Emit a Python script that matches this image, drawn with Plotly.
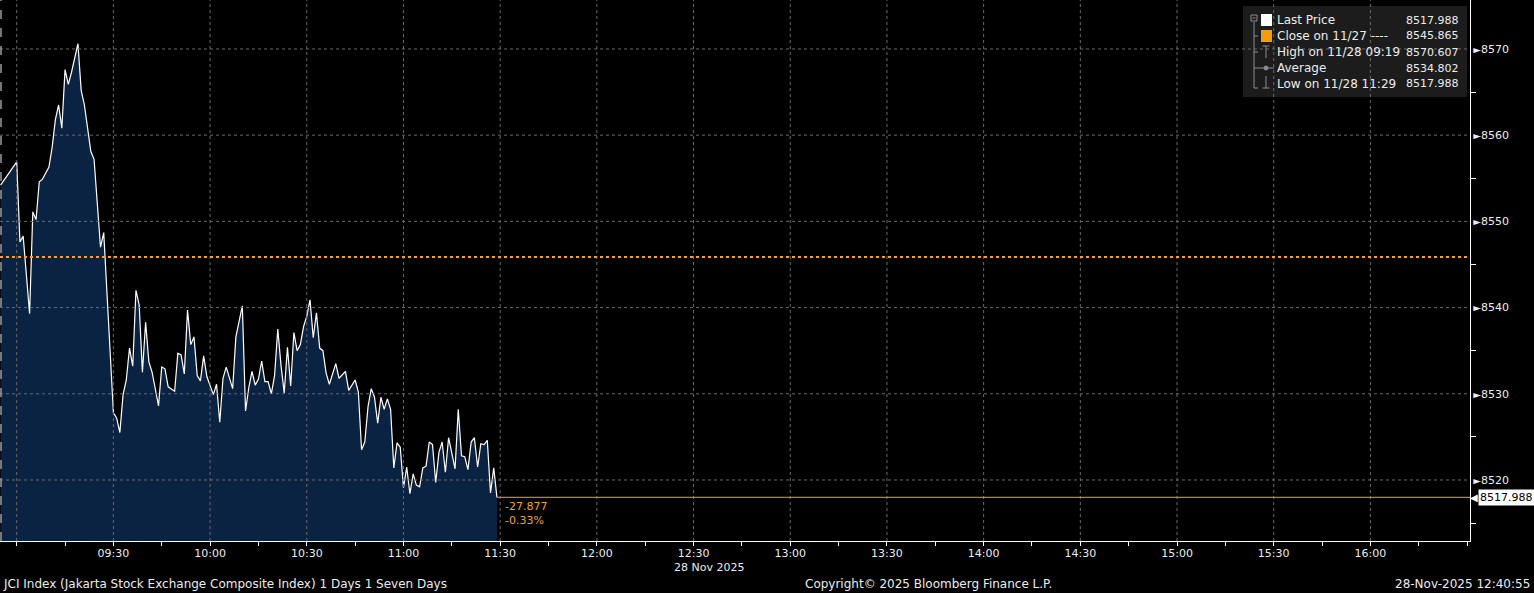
import plotly.graph_objects as go

# ---------------- data ----------------
DATE = "2025-11-28"
times = [
    "08:55", "09:00", "09:01", "09:02", "09:04", "09:05", "09:06", "09:07", "09:08", "09:10",
    "09:11", "09:12", "09:13", "09:14", "09:15", "09:16", "09:17", "09:19", "09:20", "09:21",
    "09:23", "09:24", "09:26", "09:27", "09:30", "09:31", "09:32", "09:33", "09:34", "09:35",
    "09:36", "09:37", "09:38", "09:39", "09:40", "09:41", "09:42", "09:44", "09:45", "09:46",
    "09:47", "09:49", "09:50", "09:51", "09:52", "09:53", "09:54", "09:55", "09:56", "09:57",
    "09:58", "09:59", "10:01", "10:02", "10:03", "10:04", "10:05", "10:07", "10:08", "10:10",
    "10:11", "10:12", "10:13", "10:14", "10:15", "10:16", "10:17", "10:18", "10:19", "10:20",
    "10:21", "10:22", "10:23", "10:24", "10:25", "10:26", "10:27", "10:28", "10:29", "10:30",
    "10:31", "10:32", "10:33", "10:34", "10:35", "10:36", "10:37", "10:39", "10:40", "10:42",
    "10:43", "10:45", "10:46", "10:47", "10:48", "10:49", "10:50", "10:51", "10:52", "10:53",
    "10:54", "10:55", "10:56", "10:57", "10:58", "10:59", "11:00", "11:01", "11:02", "11:03",
    "11:04", "11:05", "11:06", "11:07", "11:08", "11:09", "11:10", "11:11", "11:12", "11:13",
    "11:14", "11:15", "11:16", "11:17", "11:18", "11:19", "11:20", "11:21", "11:22", "11:23",
    "11:24", "11:25", "11:26", "11:27", "11:28", "11:29",
]
prices = [
    8554.2, 8556.9, 8547.6, 8548.3, 8539.3, 8551.1, 8550.2, 8554.6, 8554.9, 8556.3,
    8558.6, 8561.8, 8563.5, 8560.8, 8567.6, 8565.9, 8567.3, 8570.607, 8565.2, 8563.5,
    8558.1, 8557.2, 8547.0, 8548.7, 8527.8, 8527.2, 8525.5, 8529.9, 8531.6, 8535.3,
    8533.2, 8542.0, 8540.3, 8532.5, 8538.3, 8533.7, 8532.5, 8528.6, 8533.1, 8532.9,
    8530.8, 8530.3, 8534.7, 8534.5, 8532.3, 8539.7, 8535.7, 8536.6, 8532.1, 8531.5,
    8534.4, 8532.0, 8529.9, 8531.1, 8526.7, 8531.8, 8533.1, 8530.6, 8536.6, 8540.2,
    8528.0, 8530.7, 8532.6, 8531.0, 8531.7, 8533.8, 8531.4, 8531.4, 8530.0, 8532.1,
    8537.5, 8533.3, 8530.1, 8535.4, 8530.9, 8537.1, 8535.0, 8535.7, 8537.8, 8539.0,
    8540.9, 8536.5, 8539.4, 8535.3, 8535.0, 8532.4, 8531.1, 8533.5, 8531.8, 8532.6,
    8530.4, 8531.6, 8530.2, 8523.5, 8524.4, 8528.5, 8530.6, 8529.6, 8526.6, 8529.6,
    8528.2, 8529.4, 8528.2, 8521.4, 8524.3, 8523.8, 8519.1, 8521.5, 8518.4, 8520.7,
    8519.4, 8519.2, 8521.4, 8521.6, 8524.4, 8524.1, 8519.7, 8523.2, 8524.4, 8520.9,
    8524.9, 8523.1, 8521.3, 8528.2, 8522.8, 8522.7, 8521.2, 8524.4, 8524.9, 8521.5,
    8524.2, 8524.1, 8524.6, 8518.5, 8521.4, 8517.988,
]
prev_close = 8545.865
prev_close_date = "11/27"
average_value = 8534.802

x_tick_times = ["09:00", "09:30", "10:00", "10:30", "11:00", "11:30", "12:00", "12:30",
                "13:00", "13:30", "14:00", "14:30", "15:00", "15:30", "16:00"]
x_tick_labels = ["", "09:30", "10:00", "10:30", "11:00", "11:30", "12:00", "12:30",
                 "13:00", "13:30", "14:00", "14:30", "15:00", "15:30", "16:00"]
y_tick_values = [8520, 8530, 8540, 8550, 8560, 8570]
y_minor_values = [8515, 8525, 8535, 8545, 8555, 8565]

title_text = "JCI Index (Jakarta Stock Exchange Composite Index) 1 Days 1 Seven Days"
copyright_text = "Copyright© 2025 Bloomberg Finance L.P."
stamp_text = "28-Nov-2025 12:40:55"
date_text = "28 Nov 2025"

# ---------------- layout helpers ----------------
W, H = 1534, 593
ML, MR, MT, MB = 0, 64, 0, 52
PW = W - ML - MR
PH = H - MT - MB


def px(x):
    return (x - ML) / PW


def py(y):
    return (MT + PH - y) / PH


FONT = "DejaVu Sans"
FS = 12      # footer / legend labels
FS_S = 11    # axis labels, values, annotations
TXT = "#ececec"
ORANGE = "#f5a030"
GRID = "#6a6a6a"
ICON = "#8c8c8c"

xs = [f"{DATE} {t}" for t in times]
x_range = [f"{DATE} 08:54:49", f"{DATE} 16:30:54"]
y_range = [8512.92, 8575.68]

last = prices[-1]
hi = max(prices)
lo = min(prices)
hi_t = times[prices.index(hi)]
lo_t = times[len(prices) - 1 - prices[::-1].index(lo)]
chg = last - prev_close
pct = chg / prev_close * 100

fig = go.Figure()
fig.add_trace(go.Scatter(
    x=xs, y=prices, mode="lines",
    line=dict(color="#ffffff", width=1.2),
    fill="tozeroy", fillcolor="#0b2343",
    hoverinfo="skip", showlegend=False,
))

shapes = []
# legend box (drawn before grid so grid shows through like reference)
shapes.append(dict(type="rect", xref="paper", yref="paper",
                   x0=px(1243), x1=px(1467), y0=py(97), y1=py(6),
                   fillcolor="#1c1c1c", line=dict(width=0), layer="above"))
# gridlines above fill
for t in x_tick_times:
    shapes.append(dict(type="line", xref="x", yref="paper",
                       x0=f"{DATE} {t}", x1=f"{DATE} {t}", y0=0, y1=1,
                       line=dict(color=GRID, width=1, dash="dot"), layer="above"))
for v in y_tick_values:
    shapes.append(dict(type="line", xref="paper", yref="y",
                       x0=0, x1=1, y0=v, y1=v,
                       line=dict(color=GRID, width=1, dash="dot"), layer="above"))
# left edge dashed line
shapes.append(dict(type="line", xref="paper", yref="paper",
                   x0=px(1), x1=px(1), y0=0, y1=1,
                   line=dict(color="#9a9a9a", width=1.5, dash="dash"), layer="above"))
# previous close dotted line
shapes.append(dict(type="line", xref="paper", yref="y", x0=0, x1=1,
                   y0=prev_close, y1=prev_close,
                   line=dict(color=ORANGE, width=2, dash="dot"), layer="above"))
# last price line
shapes.append(dict(type="line", xref="x", yref="y", x0=xs[-1], x1=x_range[1],
                   y0=last, y1=last, line=dict(color=ORANGE, width=1), layer="above"))

# legend icons
shapes += [
    dict(type="rect", xref="paper", yref="paper", x0=px(1251), x1=px(1257), y0=py(21), y1=py(15),
         line=dict(color=ICON, width=1), fillcolor="rgba(0,0,0,0)"),
    dict(type="line", xref="paper", yref="paper", x0=px(1252.5), x1=px(1255.5), y0=py(18), y1=py(18),
         line=dict(color=ICON, width=1)),
    dict(type="line", xref="paper", yref="paper", x0=px(1254), x1=px(1254), y0=py(22), y1=py(88),
         line=dict(color=ICON, width=1)),
    dict(type="line", xref="paper", yref="paper", x0=px(1254), x1=px(1258), y0=py(36), y1=py(36),
         line=dict(color=ICON, width=1)),
    dict(type="line", xref="paper", yref="paper", x0=px(1254), x1=px(1258), y0=py(52), y1=py(52),
         line=dict(color=ICON, width=1)),
    dict(type="line", xref="paper", yref="paper", x0=px(1254), x1=px(1258), y0=py(88), y1=py(88),
         line=dict(color=ICON, width=1)),
    dict(type="rect", xref="paper", yref="paper", x0=px(1261), x1=px(1272), y0=py(26), y1=py(14),
         fillcolor="#ffffff", line=dict(width=0)),
    dict(type="rect", xref="paper", yref="paper", x0=px(1261), x1=px(1272), y0=py(42), y1=py(30),
         fillcolor="#f39c12", line=dict(width=0)),
    # high icon
    dict(type="line", xref="paper", yref="paper", x0=px(1266), x1=px(1266), y0=py(46), y1=py(58),
         line=dict(color=ICON, width=1)),
    dict(type="line", xref="paper", yref="paper", x0=px(1262.5), x1=px(1269.5), y0=py(46), y1=py(46),
         line=dict(color=ICON, width=1)),
    # average icon
    dict(type="line", xref="paper", yref="paper", x0=px(1254), x1=px(1274), y0=py(68), y1=py(68),
         line=dict(color=ICON, width=1)),
    dict(type="circle", xref="paper", yref="paper", x0=px(1264), x1=px(1268), y0=py(70), y1=py(66),
         line=dict(color=ICON, width=1), fillcolor=ICON),
    # low icon
    dict(type="line", xref="paper", yref="paper", x0=px(1266), x1=px(1266), y0=py(76), y1=py(88),
         line=dict(color=ICON, width=1)),
    dict(type="line", xref="paper", yref="paper", x0=px(1262.5), x1=px(1269.5), y0=py(88), y1=py(88),
         line=dict(color=ICON, width=1)),
]

annotations = []
legend_rows = [
    ("Last Price", f"{last:.3f}", 20),
    (f"Close on {prev_close_date} ----", f"{prev_close:.3f}", 36),
    (f"High on 11/28 {hi_t}", f"{hi:.3f}", 52),
    ("Average", f"{average_value:.3f}", 68),
    (f"Low on 11/28 {lo_t}", f"{lo:.3f}", 84),
]
for lab, val, yy in legend_rows:
    annotations.append(dict(text=lab, xref="paper", yref="paper", x=px(1275), y=py(yy),
                            xanchor="left", yanchor="middle", showarrow=False,
                            font=dict(family=FONT, size=FS, color=TXT)))
    annotations.append(dict(text=val, xref="paper", yref="paper", x=px(1461), y=py(yy),
                            xanchor="right", yanchor="middle", showarrow=False,
                            font=dict(family=FONT, size=FS_S, color=TXT)))

# change annotation
annotations.append(dict(text=f"{chg:.3f}<br>{pct:.2f}%", x=xs[-1], y=last, xref="x", yref="y",
                        xanchor="left", yanchor="top", xshift=6, yshift=-1, align="left",
                        showarrow=False, font=dict(family=FONT, size=FS_S, color=ORANGE)))
# last price tag on axis
annotations.append(dict(text=f"{last:.3f}", xref="paper", yref="y", x=px(1478), y=last,
                        xanchor="left", yanchor="middle", showarrow=False, bgcolor="#ffffff",
                        borderpad=1, font=dict(family=FONT, size=FS_S, color="#000000")))
annotations.append(dict(text="◀", xref="paper", yref="y", x=px(1480), y=last,
                        xanchor="right", yanchor="middle", showarrow=False,
                        font=dict(family="DejaVu Sans", size=10, color="#ffffff")))
# date under axis
annotations.append(dict(text=date_text, xref="paper", yref="paper", x=px(672), y=py(567),
                        xanchor="left", yanchor="middle", showarrow=False,
                        font=dict(family=FONT, size=FS_S, color=TXT)))
# footer
annotations.append(dict(text=title_text, xref="paper", yref="paper", x=px(1), y=py(584),
                        xanchor="left", yanchor="middle", showarrow=False,
                        font=dict(family=FONT, size=FS, color=TXT)))
annotations.append(dict(text=copyright_text, xref="paper", yref="paper", x=px(803), y=py(584),
                        xanchor="left", yanchor="middle", showarrow=False,
                        font=dict(family=FONT, size=FS, color=TXT)))
annotations.append(dict(text=stamp_text, xref="paper", yref="paper", x=px(1532), y=py(584),
                        xanchor="right", yanchor="middle", showarrow=False,
                        font=dict(family=FONT, size=FS, color=TXT)))

y_tick_text = [f"<span style='font-size:10px'>►</span>{v}" for v in y_tick_values]

fig.update_layout(
    width=W, height=H,
    margin=dict(l=ML, r=MR, t=MT, b=MB, pad=0),
    paper_bgcolor="#000000", plot_bgcolor="#000000",
    showlegend=False,
    shapes=shapes, annotations=annotations,
    xaxis=dict(
        type="date", range=x_range, showgrid=False, zeroline=False,
        tickvals=[f"{DATE} {t}" for t in x_tick_times], ticktext=x_tick_labels,
        ticks="outside", ticklen=4, tickcolor="#ffffff",
        minor=dict(tick0=f"{DATE} 09:00", dtick=15 * 60 * 1000, ticks="outside",
                   ticklen=4, tickcolor="#ffffff", showgrid=False),
        showline=True, linecolor="#ffffff", linewidth=1,
        tickfont=dict(family=FONT, size=FS_S, color=TXT),
        ticklabelstandoff=-2,
        fixedrange=True,
    ),
    yaxis=dict(
        side="right", range=y_range, showgrid=False, zeroline=False,
        tickvals=y_tick_values, ticktext=y_tick_text, ticks="",
        minor=dict(tickvals=y_minor_values, ticks="outside", ticklen=5,
                   tickcolor="#ffffff", showgrid=False),
        showline=True, linecolor="#ffffff", linewidth=1,
        tickfont=dict(family=FONT, size=FS_S, color=TXT),
        fixedrange=True,
    ),
)

fig.write_html(
    "out.html",
    config={"displayModeBar": False, "staticPlot": True},
    post_script="document.body.style.margin='0';document.body.style.overflow='hidden';",
)
